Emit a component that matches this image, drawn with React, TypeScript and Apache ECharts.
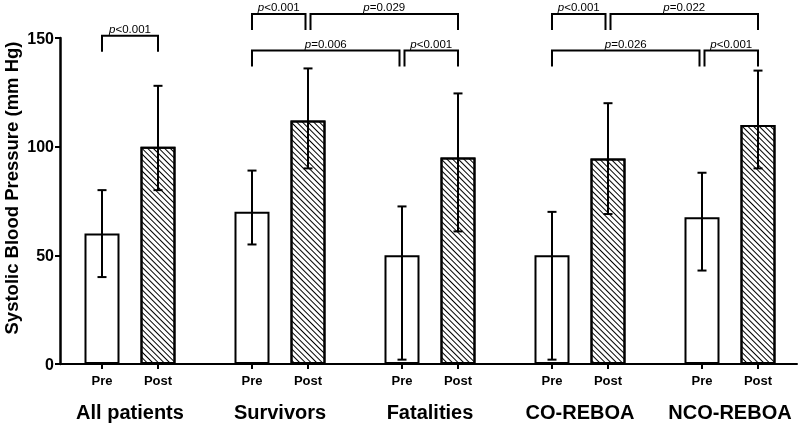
import React, { useEffect, useRef } from "react";
import * as echarts from "echarts";

const groups = ["All patients", "Survivors", "Fatalities", "CO-REBOA", "NCO-REBOA"];
const phaseLabels = ["Pre", "Post"];
const preMean = [60, 70, 50, 50, 67.5];
const preLow = [40, 55, 2, 2, 43];
const preHigh = [80, 89, 72.5, 70, 88];
const postMean = [100, 112, 95, 94.5, 110];
const postLow = [80, 90, 61, 69, 90];
const postHigh = [128, 136, 124.5, 120, 135];
const yTicks = [0, 50, 100, 150];

// significance brackets: [group, phase] -> [group, phase], height (mm Hg), label
const bracketStart = [[0, 0], [1, 0], [1, 1], [1, 0], [2, 0], [3, 0], [3, 1], [3, 0], [4, 0]];
const bracketEnd = [[0, 1], [1, 1], [2, 1], [2, 0], [2, 1], [3, 1], [4, 1], [4, 0], [4, 1]];
const bracketLevel = [151, 161, 161, 144.2, 144.2, 161, 161, 144.2, 144.2];
const bracketLabel = ["p<0.001", "p<0.001", "p=0.029", "p=0.006", "p<0.001", "p<0.001", "p=0.022", "p=0.026", "p<0.001"];

const PHASE_OFFSET = 0.18667;
const FONT = "Liberation Sans, Arial, Helvetica, sans-serif";

const xPos = (g: number, phase: number) => g + (phase ? PHASE_OFFSET : -PHASE_OFFSET);

export default function App() {
  const ref = useRef<HTMLDivElement>(null);

  useEffect(() => {
    if (!ref.current) return;
    const chart = echarts.init(ref.current, undefined, { renderer: "svg" });

    const barPositions: number[] = [];
    groups.forEach((_, i) => {
      barPositions.push(xPos(i, 0), xPos(i, 1));
    });

    const errData = [
      ...preMean.map((_, i) => [xPos(i, 0), preLow[i], preHigh[i]]),
      ...postMean.map((_, i) => [xPos(i, 1), postLow[i], postHigh[i]]),
    ];

    const bracketData = bracketStart.map((s, i) => [
      xPos(s[0], s[1]),
      xPos(bracketEnd[i][0], bracketEnd[i][1]),
      bracketLevel[i],
    ]);

    const sameBar = (a: number[], b: number[]) => a[0] === b[0] && a[1] === b[1];

    const xMin = -0.46667;
    const xMax = 4.44667;

    chart.setOption({
      animation: false,
      grid: { left: 60, right: 3, top: 38, bottom: 61 },
      xAxis: [
        {
          type: "value",
          min: xMin,
          max: xMax,
          splitLine: { show: false },
          axisLine: { show: true, onZero: false, lineStyle: { color: "#000", width: 2 } },
          axisTick: {
            show: true,
            customValues: barPositions,
            length: 5,
            lineStyle: { color: "#000", width: 2 },
          },
          axisLabel: {
            customValues: barPositions,
            formatter: (v: number) => (v < Math.round(v) ? phaseLabels[0] : phaseLabels[1]),
            color: "#000",
            fontWeight: "bold",
            fontSize: 13,
            fontFamily: FONT,
            margin: 10,
          },
        },
        {
          type: "value",
          position: "bottom",
          min: xMin,
          max: xMax,
          splitLine: { show: false },
          axisLine: { show: false, onZero: false },
          axisTick: { show: false },
          axisLabel: {
            customValues: [0, 1, 2, 3, 4],
            formatter: (v: number) => groups[Math.round(v)] ?? "",
            color: "#000",
            fontWeight: "bold",
            fontSize: 20,
            fontFamily: FONT,
            margin: 38,
          },
        },
      ],
      yAxis: {
        type: "value",
        min: 0,
        max: 150,
        interval: 50,
        splitLine: { show: false },
        axisLine: { show: true, onZero: false, lineStyle: { color: "#000", width: 2.5 } },
        axisTick: { show: true, length: 5, lineStyle: { color: "#000", width: 2 } },
        axisLabel: {
          customValues: yTicks,
          color: "#000",
          fontWeight: "bold",
          fontSize: 16,
          fontFamily: FONT,
          margin: 6,
        },
      },
      graphic: [
        {
          type: "text",
          x: 11,
          y: 188,
          rotation: Math.PI / 2,
          style: {
            text: "Systolic Blood Pressure (mm Hg)",
            fontSize: 18.5,
            fontWeight: "bold",
            fontFamily: FONT,
            fill: "#000",
            align: "center",
            verticalAlign: "middle",
          },
        },
      ],
      series: [
        {
          type: "bar",
          xAxisIndex: 0,
          data: preMean.map((v, i) => [xPos(i, 0), v]),
          barWidth: 35,
          barGap: "-100%",
          itemStyle: { color: "#fff", borderColor: "#000", borderWidth: 2 },
          z: 2,
        },
        {
          type: "bar",
          xAxisIndex: 0,
          data: postMean.map((v, i) => [xPos(i, 1), v]),
          barWidth: 35,
          barGap: "-100%",
          itemStyle: {
            color: "#fff",
            borderColor: "#000",
            borderWidth: 2,
            decal: {
              symbol: "rect",
              symbolSize: 1,
              color: "#000",
              backgroundColor: "#fff",
              dashArrayX: [1, 0],
              dashArrayY: [1, 2.3],
              rotation: Math.PI / 4,
            },
          },
          z: 2,
        },
        {
          type: "custom",
          xAxisIndex: 0,
          data: errData,
          encode: { x: 0, y: [1, 2] },
          z: 5,
          renderItem: (params: any, api: any) => {
            const x = api.value(0);
            const lo = api.coord([x, api.value(1)]);
            const hi = api.coord([x, api.value(2)]);
            const half = 4.5;
            const st = { stroke: "#000", lineWidth: 2 };
            return {
              type: "group",
              children: [
                { type: "line", shape: { x1: lo[0], y1: lo[1], x2: hi[0], y2: hi[1] }, style: st },
                { type: "line", shape: { x1: hi[0] - half, y1: hi[1], x2: hi[0] + half, y2: hi[1] }, style: st },
                { type: "line", shape: { x1: lo[0] - half, y1: lo[1], x2: lo[0] + half, y2: lo[1] }, style: st },
              ],
            };
          },
        },
        {
          type: "custom",
          xAxisIndex: 0,
          data: bracketData,
          encode: { x: [0, 1], y: 2 },
          clip: false,
          z: 6,
          renderItem: (params: any, api: any) => {
            const i = params.dataIndex;
            const level = api.value(2);
            const p1 = api.coord([api.value(0), level]);
            const p2 = api.coord([api.value(1), level]);
            let x1 = p1[0];
            let x2 = p2[0];
            const y = p1[1];
            bracketEnd.forEach((e, j) => {
              if (j !== i && bracketLevel[j] === bracketLevel[i] && sameBar(e, bracketStart[i])) x1 += 2.5;
            });
            bracketStart.forEach((s, j) => {
              if (j !== i && bracketLevel[j] === bracketLevel[i] && sameBar(s, bracketEnd[i])) x2 -= 2.5;
            });
            const leg = 16;
            const label = bracketLabel[i];
            return {
              type: "group",
              children: [
                {
                  type: "polyline",
                  shape: { points: [[x1, y + leg], [x1, y], [x2, y], [x2, y + leg]] },
                  style: { stroke: "#000", lineWidth: 2, fill: "none", lineJoin: "miter" },
                },
                {
                  type: "text",
                  style: {
                    x: (x1 + x2) / 2,
                    y: y - 1,
                    text: "{i|" + label.charAt(0) + "}" + label.slice(1),
                    rich: { i: { fontStyle: "italic", fontSize: 11.5, fontFamily: FONT, fill: "#000" } },
                    fontSize: 11.5,
                    fontFamily: FONT,
                    fill: "#000",
                    align: "center",
                    verticalAlign: "bottom",
                  },
                },
              ],
            };
          },
        },
      ],
    });

    return () => chart.dispose();
  }, []);

  return (
    <div
      ref={ref}
      style={{ position: "fixed", left: 0, top: 0, width: 800, height: 425 }}
    />
  );
}
